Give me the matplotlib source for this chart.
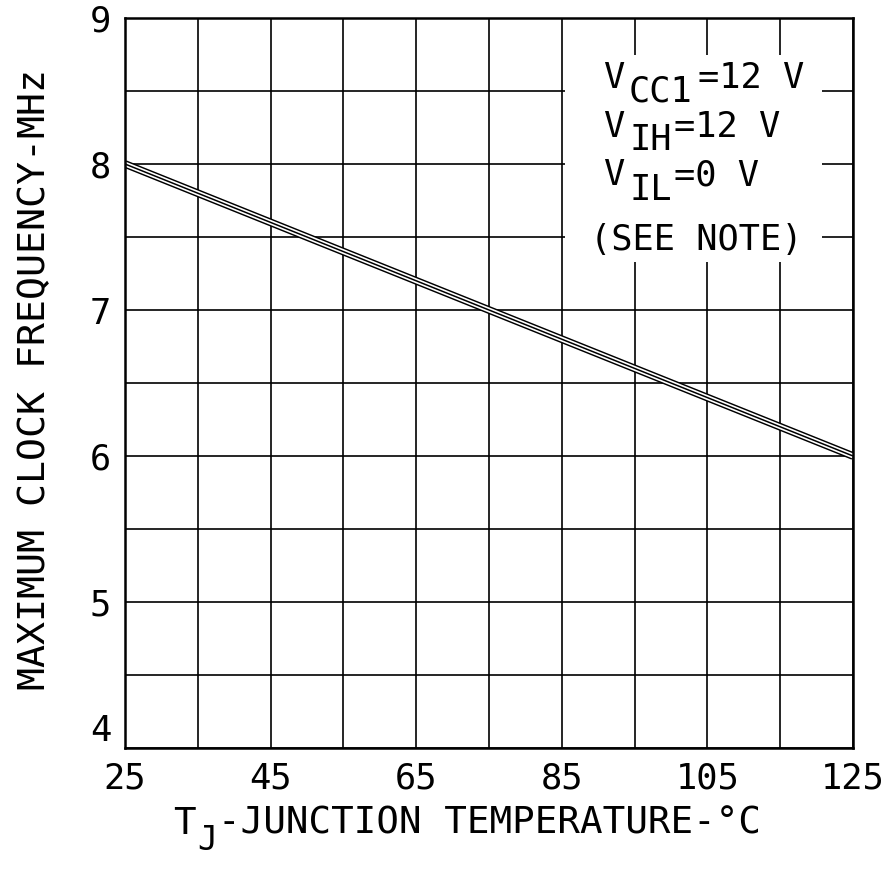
import numpy as np
import matplotlib
matplotlib.use("Agg")
import matplotlib.pyplot as plt
from matplotlib.patches import Rectangle

# data
temp_c = [25, 125]          # junction temperature, deg C
freq_mhz = [8.0, 6.0]       # maximum clock frequency, MHz
x_ticks = [25, 45, 65, 85, 105, 125]
y_ticks = [4, 5, 6, 7, 8, 9]

plt.rcParams['font.family'] = ['DejaVu Sans Mono']
FS = 25.5

fig = plt.figure(figsize=(8.96, 8.77), dpi=100)
ax = fig.add_axes([125/896, 1 - 748/877, 728/896, 730/877])

ax.set_xlim(25, 125)
ax.set_ylim(4, 9)
ax.set_xticks(x_ticks)
ax.set_yticks(y_ticks)
ax.set_xticks(np.arange(25, 126, 10), minor=True)
ax.set_yticks(np.arange(4, 9.01, 0.5), minor=True)
ax.grid(which='both', color='black', linewidth=1.2, zorder=1)
ax.tick_params(which='both', length=0)
ax.tick_params(axis='x', pad=10, labelsize=FS)
ax.tick_params(axis='y', pad=10, labelsize=FS)
ax.get_yticklabels()[0].set_va('bottom')
for s in ax.spines.values():
    s.set_linewidth(1.8)
    s.set_zorder(5)

# white patch behind the note
ax.add_patch(Rectangle((85.4, 7.33), 35.3, 1.42, facecolor='white',
                       edgecolor='none', zorder=2))

# triple-stroke curve
ax.plot(temp_c, freq_mhz, color='black', lw=5.6, zorder=3, solid_capstyle='butt')
ax.plot(temp_c, freq_mhz, color='white', lw=3.5, zorder=3, solid_capstyle='butt')
ax.plot(temp_c, freq_mhz, color='black', lw=1.1, zorder=3, solid_capstyle='butt')

def px(x, y, s):
    ax.text((x - 125) / 728, (748 - y) / 730, s, transform=ax.transAxes,
            ha='left', va='baseline', fontsize=FS, zorder=4)

px(603, 88, "V"); px(629, 101, "CC1"); px(698, 88, "=12 V")
px(603, 137, "V"); px(629, 150, "IH"); px(674, 137, "=12 V")
px(603, 185, "V"); px(629, 200, "IL"); px(674, 185, "=0 V")
px(590, 250, "(SEE NOTE)")

# axis titles
fig.text(35/896, 1 - 380/877, "MAXIMUM CLOCK FREQUENCY-MHz", rotation=90,
         ha='center', va='center', fontsize=27.5)
fig.text(173/896, 1 - 834/877, "T", ha='left', va='baseline', fontsize=27)
fig.text(197/896, 1 - 850/877, "J", ha='left', va='baseline', fontsize=24)
fig.text(218/896, 1 - 834/877, "-JUNCTION TEMPERATURE-°C", ha='left',
         va='baseline', fontsize=27)

fig.savefig("out.png", dpi=100)
